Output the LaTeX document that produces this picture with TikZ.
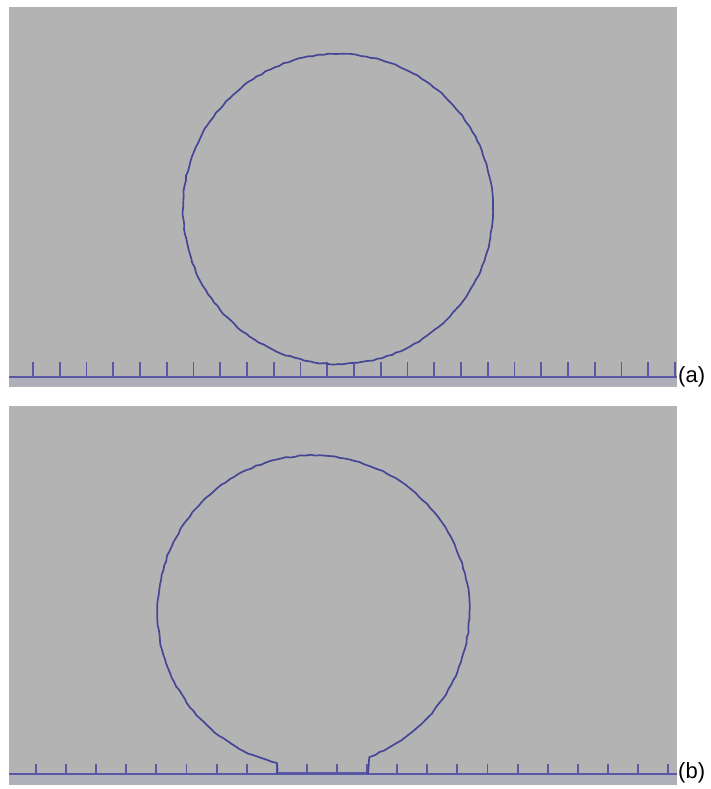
\documentclass[tikz,border=0pt]{standalone}
\usepackage{fontspec}
\setmainfont{Liberation Sans}
\usetikzlibrary{decorations.pathmorphing}
\definecolor{panelgray}{RGB}{179,179,179}
\definecolor{dropblue}{RGB}{70,70,150}
\definecolor{groundblue}{RGB}{88,88,166}
\definecolor{groundshade}{RGB}{175,175,188}
\tikzset{
panel/.style={fill=panelgray,draw=none},
ground/.style={draw=groundblue,line width=2.4pt},
tickmark/.style={draw=groundblue,line width=1.9pt},
drop/.style={
  draw=dropblue,
  line width=1.7pt,
  line join=round,
  decorate,
  decoration={random steps,segment length=5pt,amplitude=0.6pt}
  },
lbl/.style={font=\fontsize{22}{22}\selectfont,inner sep=0pt,anchor=base west}
}

\begin{document}
\begin{tikzpicture}[x=1pt,y=-1pt]

\useasboundingbox (0,0) rectangle (710,789);

% panel (a)
\path[panel] (9,7) rectangle (677,387);
\fill[groundshade] (9,378) rectangle (677,386);
\draw[ground] (9,377) coordinate (gnda-w) -- (677,377) coordinate (gnda-e);
\foreach \i in {0,...,24}
  \draw[tickmark] ({33+26.75*\i},377) -- ++(0,-15);

\pgfmathsetseed{11}
\draw[drop] (338,209) circle[radius=155pt];

\node[lbl] (lbla) at (678,382.5) {(a)};


% panel (b)
\path[panel] (9,406) rectangle (677,785);
\fill[groundshade] (9,775) rectangle (677,784);
\draw[ground] (9,774) coordinate (gndb-w) -- (677,774) coordinate (gndb-e);
\foreach \i in {0,...,21}
  \draw[tickmark] ({36+30.1*\i},774) -- ++(0,-10);

\draw[groundblue,line width=3pt] (277,773) -- (368,773);
\pgfmathsetmacro{\angl}{-103.5}
\draw[drop] (277,774) -- (277,763) arc[start angle=\angl, end angle=-429, radius=156pt] -- (368,774);

\node[lbl] (lblb) at (678,778.5) {(b)};

\end{tikzpicture}
\end{document}
